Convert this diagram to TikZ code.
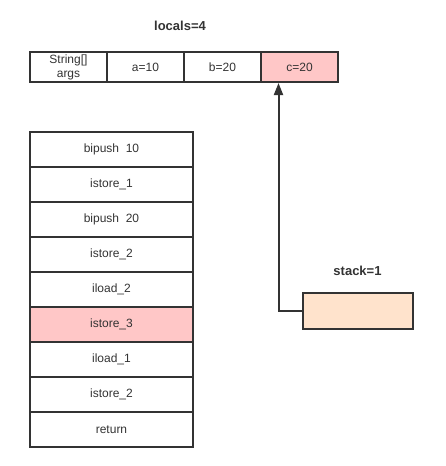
\documentclass[tikz,border=0pt]{standalone}
\usepackage{fontspec}
\setmainfont{Liberation Sans}
\usetikzlibrary{arrows.meta}
\definecolor{hlpink}{HTML}{FFC7C7}
\definecolor{peach}{HTML}{FFE3CC}
\definecolor{ink}{HTML}{333333}
\begin{document}
\begin{tikzpicture} [x=1pt,y=-1pt]
    \tikzset{cell/.style = {shape=rectangle,draw=ink,text=ink,line width=2pt,minimum width=77pt,minimum height=30pt,inner sep=0pt,font=\fontsize{12}{14}\selectfont,align=center}}
    \tikzset{instr/.style = {cell,minimum width=163pt,minimum height=35pt}}
    \tikzset{title/.style = {text=ink,font=\fontsize{13}{13}\selectfont\bfseries}}
    \tikzset{edge/.style = {draw=ink,line width=2pt,-{Triangle[length=12pt,width=9pt]}}}
    \useasboundingbox (0,0) rectangle (445,466);
    % local variable table
    \node[title] (locals) at (180,26) {locals=4};
    \node[cell] (args) at (68.5,67) {String[]\\args};
    \node[cell] (a) at (145.5,67) {a=10};
    \node[cell] (b) at (222.5,67) {b=20};
    \node[cell, fill=hlpink] (c) at (299.5,67) {c=20};
    % bytecode instructions
    \node[instr] (i1) at (111.5,149.5) {bipush\ \ 10};
    \node[instr] (i2) at (111.5,184.5) {istore\_1};
    \node[instr] (i3) at (111.5,219.5) {bipush\ \ 20};
    \node[instr] (i4) at (111.5,254.5) {istore\_2};
    \node[instr] (i5) at (111.5,289.5) {iload\_2};
    \node[instr, fill=hlpink] (i6) at (111.5,324.5) {istore\_3};
    \node[instr] (i7) at (111.5,359.5) {iload\_1};
    \node[instr] (i8) at (111.5,394.5) {istore\_2};
    \node[instr] (i9) at (111.5,429.5) {return};
    % operand stack
    \node[title] (stack) at (357.5,271) {stack=1};
    \node[cell, fill=peach, minimum width=110pt, minimum height=36pt] (stk) at (357.5,311) {};
    % value popped into c
    \draw[edge] (stk.west) -| ([xshift=-21pt]c.south);
    \end{tikzpicture}
\end{document}
